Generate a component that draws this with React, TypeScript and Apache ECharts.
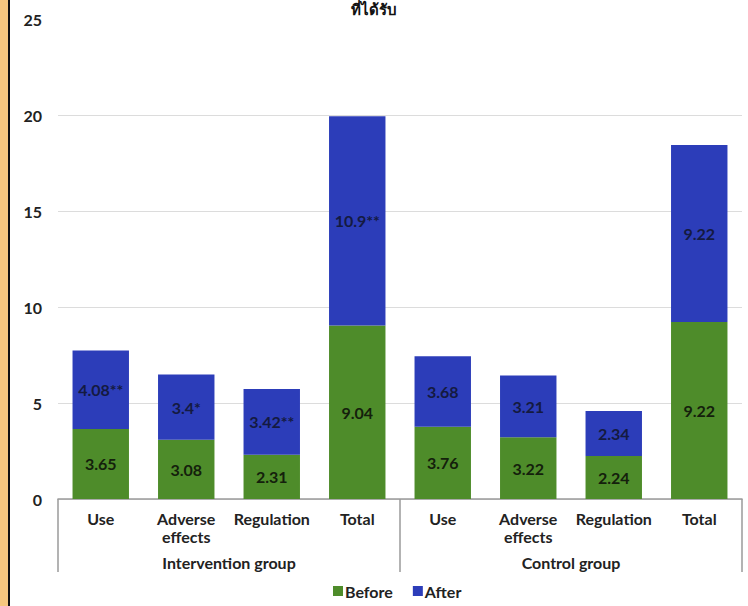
import React, { useEffect, useRef } from "react";
import * as echarts from "echarts";

const subCategories = ["Use", "Adverse\neffects", "Regulation", "Total", "Use", "Adverse\neffects", "Regulation", "Total"];
const groups = ["Intervention group", "Control group"];
const beforeValues = [3.65, 3.08, 2.31, 9.04, 3.76, 3.22, 2.24, 9.22];
const afterValues = [4.08, 3.4, 3.42, 10.9, 3.68, 3.21, 2.34, 9.22];
const afterLabels = ["4.08**", "3.4*", "3.42**", "10.9**", "3.68", "3.21", "2.34", "9.22"];
const yTicks = [0, 5, 10, 15, 20, 25];
const titleText = "ที่ได้รับ";

const FONT = "Lato, 'Open Sans', sans-serif";
const GREEN = "#4E8C2A";
const BLUE = "#2C3DB9";

export default function App() {
  const ref = useRef<HTMLDivElement>(null);
  useEffect(() => {
    if (!ref.current) return;
    const chart = echarts.init(ref.current, undefined, { renderer: "svg" });
    chart.setOption({
      animation: false,
      backgroundColor: "#ffffff",
      textStyle: { fontFamily: FONT },
      title: {
        text: titleText,
        left: "center",
        top: 0,
        padding: 0,
        textStyle: { fontSize: 15, fontWeight: "bold", color: "#111", fontFamily: "'Noto Sans', sans-serif", lineHeight: 18 },
      },
      graphic: [
        { type: "rect", shape: { x: 0, y: 0, width: 8, height: 606 }, style: { fill: "#F6C77E" }, z: 100 },
        { type: "line", shape: { x1: 9, y1: 0, x2: 9, y2: 606 }, style: { stroke: "#111", lineWidth: 2 }, z: 100 },
      ],
      grid: { left: 58, right: 6, top: 19, bottom: 107, containLabel: false },
      legend: {
        bottom: 2,
        left: 328,
        itemWidth: 10,
        itemHeight: 10,
        itemGap: 20,
        icon: "rect",
        textStyle: { fontSize: 16, fontWeight: "bold", color: "#222", fontFamily: FONT, padding: [0, 0, 0, -3] },
        data: ["Before", "After"],
      },
      xAxis: [
        {
          type: "category",
          data: subCategories,
          position: "bottom",
          axisLine: { show: true, lineStyle: { color: "#9a9a9a", width: 1.5 } },
          axisTick: { show: false },
          axisLabel: { margin: 10, fontSize: 16, fontWeight: "bold", color: "#222", lineHeight: 18, interval: 0, fontFamily: FONT },
        },
        {
          type: "category",
          data: groups,
          position: "bottom",
          axisLine: { show: false },
          axisTick: { show: true, length: 73, lineStyle: { color: "#9a9a9a", width: 1.5 } },
          axisLabel: { margin: 55, fontSize: 16, fontWeight: "bold", color: "#222", fontFamily: FONT },
        },
      ],
      yAxis: {
        type: "value",
        min: yTicks[0],
        max: yTicks[yTicks.length - 1],
        interval: 5,
        axisLine: { show: false },
        axisTick: { show: false },
        axisLabel: { margin: 16, fontSize: 16, fontWeight: "bold", color: "#222", fontFamily: FONT },
        splitLine: { show: true, lineStyle: { color: ["#dcdcdc", "#dcdcdc", "#dcdcdc", "#dcdcdc", "#dcdcdc", "rgba(0,0,0,0)"], width: 1 } },
      },
      series: [
        {
          name: "Before",
          type: "bar",
          stack: "s",
          xAxisIndex: 0,
          data: beforeValues,
          barCategoryGap: "34%",
          itemStyle: { color: GREEN },
          label: { show: true, position: "inside", fontSize: 16, fontWeight: "bold", color: "#14200c", fontFamily: FONT },
        },
        {
          name: "After",
          type: "bar",
          stack: "s",
          xAxisIndex: 0,
          data: afterValues,
          barCategoryGap: "34%",
          itemStyle: { color: BLUE },
          label: {
            show: true,
            position: "inside",
            fontSize: 16,
            fontWeight: "bold",
            color: "#141a40",
            fontFamily: FONT,
            formatter: (p: any) => afterLabels[p.dataIndex],
          },
        },
      ],
    });
    return () => chart.dispose();
  }, []);
  return (
    <div style={{ position: "absolute", left: 0, top: 0, width: 748, height: 606 }}>
      <div ref={ref} style={{ width: 748, height: 606 }} />
    </div>
  );
}
